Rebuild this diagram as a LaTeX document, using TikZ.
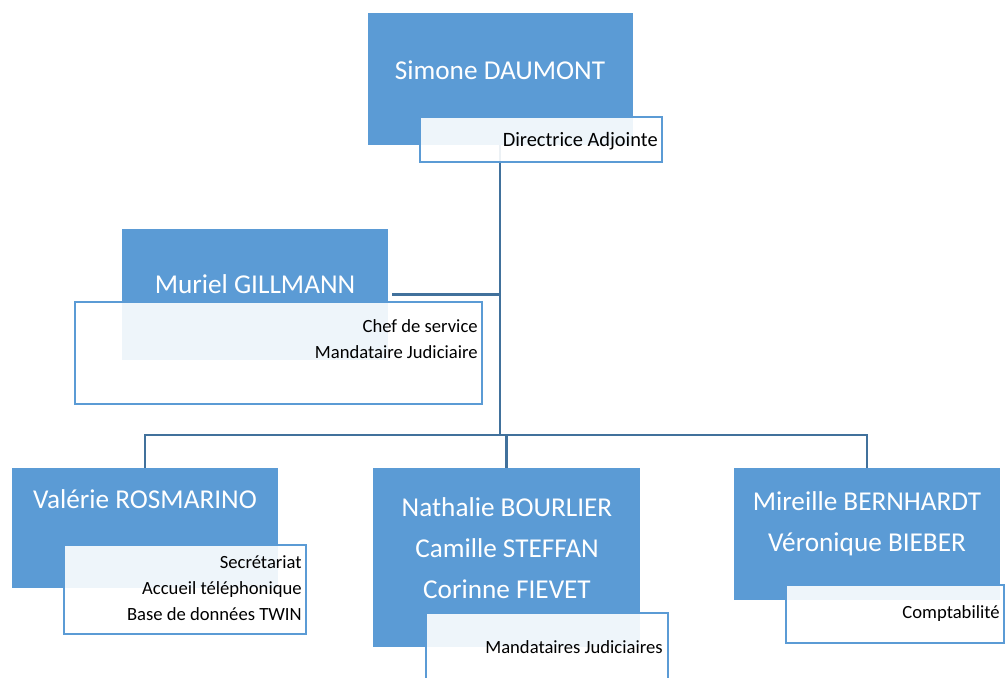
\documentclass[tikz,border=0pt]{standalone}
\usepackage{fontspec}
\setmainfont{Carlito}
\usetikzlibrary{fit}
\definecolor{boxblue}{HTML}{5B9BD5}
\definecolor{linkblue}{HTML}{41719C}
\begin{document}
\begin{tikzpicture}[x=0.02cm, y=-0.02cm,
    namebox/.style={fill=boxblue, draw=none, inner sep=0pt},
    rolebox/.style={fill=white, fill opacity=0.9, draw=boxblue, line width=1pt, inner sep=0pt},
    nametxt/.style={text=white, font=\fontsize{15.5}{23.5}\selectfont, align=center, inner sep=0pt},
    roletxt/.style={text=black, font=\fontsize{10.6}{14.8}\selectfont, align=right, anchor=east, inner sep=0pt},
    link/.style={draw=linkblue, line width=1.5pt}]
  \useasboundingbox (0,0) rectangle (1005,677);
  \fill[white] (0,0) rectangle (1005,677);

  % connectors first, boxes on top
  \coordinate (bus) at (500,435);
  \node[namebox, fit={(368,13) (633,145)}] (simone) {};
  \node[namebox, fit={(122,229) (388,360)}] (muriel) {};
  \node[namebox, fit={(12,468) (278,588)}] (valerie) {};
  \node[namebox, fit={(373,468) (640,647)}] (nathalie) {};
  \node[namebox, fit={(734,468) (1000,600)}] (mireille) {};

  \draw[link] (simone.south -| bus) -- (bus);
  \draw[link] (muriel.east) ++(4,0) coordinate (murielR) -- (murielR -| bus);
  \draw[link] (valerie.north) |- (bus) -| (mireille.north);
  \draw[link] (nathalie.north) -- (nathalie.north |- bus);

  % role boxes
  \node[rolebox, fit={(420,117) (662,162)}] (simoneR) {};
  \node[rolebox, fit={(75,302) (482,404)}] (murielR) {};
  \node[rolebox, fit={(64,545) (306,634)}] (valerieR) {};
  \node[rolebox, fit={(426,613) (668,700)}] (nathalieR) {};
  \node[rolebox, fit={(786,585) (1004,643)}] (mireilleR) {};

  % names
  \node[nametxt] (simoneT) at (500,70) {Simone DAUMONT};
  \node[nametxt] (murielT) at (255,284) {Muriel GILLMANN};
  \node[nametxt] (valerieT) at (145,499) {Valérie ROSMARINO};
  \node[nametxt] (nathalieT) at (507,548) {Nathalie BOURLIER\\Camille STEFFAN\\Corinne FIEVET};
  \node[nametxt] (mireilleT) at (867,524) {Mireille BERNHARDT\\Véronique BIEBER};

  % roles
  \node[roletxt, font=\fontsize{11.6}{14.8}\selectfont] (simoneL) at (658,141) {Directrice Adjointe};
  \node[roletxt] (murielL) at (478,339) {Chef de service\\Mandataire Judiciaire};
  \node[roletxt] (valerieL) at (302,588) {Secrétariat\\Accueil téléphonique\\Base de données TWIN};
  \node[roletxt] (nathalieL) at (663,647) {Mandataires Judiciaires};
  \node[roletxt] (mireilleL) at (1000,614) {Comptabilité};
\end{tikzpicture}
\end{document}
